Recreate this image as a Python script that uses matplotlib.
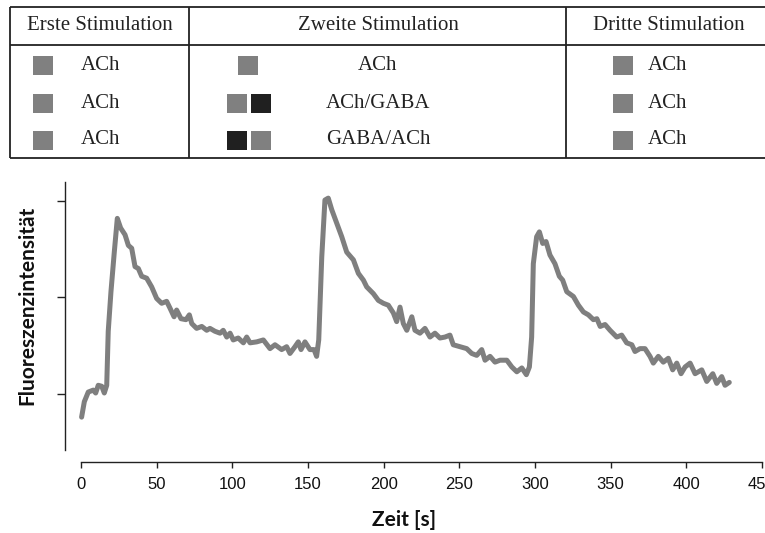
"""
    Fluoreszenzverlauf bei drei Stimulationen mit Stimulationstabelle
"""
import matplotlib
matplotlib.use('Agg')
import matplotlib.pyplot as plt
from matplotlib.patches import Rectangle

# --- data ------------------------------------------------------------------
zeit = [0.4, 2.2, 4.8, 8.1, 9.7, 11.4, 13.7, 15.4, 17.0, 18.0, 19.8, 22.0,
        24.0, 26.2, 29.1, 31.3, 33.5, 35.7, 37.9, 40.1, 43.4, 46.7, 50.0,
        53.3, 56.6, 58.8, 61.5, 63.2, 66.1, 69.4, 71.6, 73.2, 76.4, 79.8,
        83.1, 85.2, 88.5, 91.9, 94.0, 96.3, 98.5, 100.6, 103.9, 107.3,
        109.5, 111.7, 116.1, 120.5, 124.9, 128.2, 132.6, 135.9, 138.1,
        141.4, 143.6, 145.4, 148.0, 151.3, 154.0, 155.7, 157.1, 159.1,
        161.2, 163.4, 165.7, 169.0, 172.3, 175.6, 180.0, 183.3, 186.6,
        188.8, 193.2, 196.5, 199.8, 203.1, 206.4, 208.6, 210.8, 213.0,
        215.3, 218.6, 220.7, 224.0, 227.3, 230.6, 233.9, 237.2, 240.5,
        243.8, 246.0, 250.4, 254.9, 258.2, 261.5, 264.8, 267.0, 270.3,
        273.6, 276.9, 281.4, 284.7, 288.0, 291.3, 294.3, 296.3, 297.8,
        298.9, 301.1, 302.9, 305.1, 307.3, 309.9, 313.2, 316.1, 318.3,
        321.0, 325.4, 328.7, 332.0, 335.3, 338.6, 340.9, 343.1, 346.3,
        349.6, 354.0, 357.3, 360.6, 364.0, 366.1, 369.4, 372.7, 376.0,
        378.2, 381.5, 384.8, 388.1, 391.0, 393.7, 396.5, 399.2, 402.5,
        405.8, 410.2, 413.5, 417.5, 420.1, 423.4, 425.6, 428.4]
intensitaet = [0.76, 0.92, 1.02, 1.04, 1.01, 1.09, 1.08, 1.01, 1.09, 1.65,
               2.06, 2.47, 2.82, 2.72, 2.65, 2.54, 2.51, 2.32, 2.30, 2.22,
               2.20, 2.11, 1.99, 1.94, 1.96, 1.89, 1.80, 1.87, 1.78, 1.77,
               1.82, 1.73, 1.68, 1.70, 1.66, 1.68, 1.65, 1.63, 1.66, 1.59,
               1.63, 1.56, 1.58, 1.53, 1.59, 1.53, 1.54, 1.56, 1.47, 1.51,
               1.46, 1.49, 1.42, 1.49, 1.54, 1.46, 1.54, 1.46, 1.46, 1.39,
               1.56, 2.42, 3.01, 3.03, 2.91, 2.77, 2.63, 2.47, 2.39, 2.25,
               2.18, 2.11, 2.04, 1.97, 1.94, 1.92, 1.84, 1.75, 1.90, 1.73,
               1.66, 1.80, 1.66, 1.63, 1.68, 1.59, 1.63, 1.58, 1.59, 1.61,
               1.51, 1.49, 1.47, 1.42, 1.40, 1.46, 1.35, 1.39, 1.33, 1.35,
               1.35, 1.28, 1.23, 1.27, 1.20, 1.28, 1.59, 2.35, 2.63, 2.68,
               2.56, 2.58, 2.44, 2.35, 2.22, 2.18, 2.06, 2.01, 1.92, 1.85,
               1.82, 1.77, 1.78, 1.70, 1.72, 1.66, 1.59, 1.61, 1.53, 1.51,
               1.44, 1.47, 1.47, 1.39, 1.32, 1.39, 1.33, 1.37, 1.25, 1.32,
               1.21, 1.28, 1.32, 1.21, 1.25, 1.13, 1.21, 1.11, 1.18, 1.09,
               1.12]

x_ticks = [0, 50, 100, 150, 200, 250, 300, 350, 400, 450]
y_ticks = [1, 2, 3]

# Stimulationstabelle: header and rows (colour keys, label)
spalten = ['Erste Stimulation', 'Zweite Stimulation', 'Dritte Stimulation']
grau, schwarz = '#808080', '#202020'
erste = [([grau], 'ACh'), ([grau], 'ACh'), ([grau], 'ACh')]
zweite = [([grau], 'ACh'), ([grau, schwarz], 'ACh/GABA'),
          ([schwarz, grau], 'GABA/ACh')]
dritte = [([grau], 'ACh'), ([grau], 'ACh'), ([grau], 'ACh')]

W, H = 765, 533
fig = plt.figure(figsize=(W / 100, H / 100), dpi=100)

# --- table, laid out in pixel coordinates ----------------------------------
tab = fig.add_axes([0, 0, 1, 1])
tab.set_xlim(0, W)
tab.set_ylim(H, 0)
tab.axis('off')

lw = 1.3
for y in (7, 45, 158):
    tab.plot([10, W], [y, y], color='#222222', lw=lw, solid_capstyle='butt')
for x in (10, 189, 566):
    tab.plot([x, x], [7, 158], color='#222222', lw=lw, solid_capstyle='butt')

serif = dict(family=['Liberation Serif', 'DejaVu Serif'], fontsize=15,
             color='#222222', va='center')
for name, cx in zip(spalten, (99.5, 378, 669)):
    tab.text(cx, 26, name, ha='center', **serif)

row_y = [65, 103, 140]
sq_w, sq_h = 20, 19


def draw_keys(keys, x0, y):
    for i, c in enumerate(keys):
        tab.add_patch(Rectangle((x0 + i * (sq_w + 4), y - sq_h / 2), sq_w, sq_h,
                                facecolor=c, edgecolor='none'))


for (keys, lab), y in zip(erste, row_y):
    draw_keys(keys, 33, y)
    tab.text(81, y, lab, ha='left', **serif)

for (keys, lab), y in zip(zweite, row_y):
    x0 = 238 if len(keys) == 1 else 227
    draw_keys(keys, x0, y)
    tab.text(378, y, lab, ha='center', **serif)

for (keys, lab), y in zip(dritte, row_y):
    draw_keys(keys, 613, y)
    tab.text(648, y, lab, ha='left', **serif)

# --- trace -----------------------------------------------------------------
ax_l, ax_b, ax_t = 65, 462, 171
ax = fig.add_axes([ax_l / W, (H - ax_b) / H, (W - ax_l) / W, (ax_b - ax_t) / H])
ax.patch.set_alpha(0)
ax.plot(zeit, intensitaet, color='#7f7f7f', lw=3.6, solid_joinstyle='round',
        solid_capstyle='round')

ax.set_xlim(-10.57, 452.0)
ax.set_ylim(0.295, 3.311)
ax.spines['top'].set_visible(False)
ax.spines['right'].set_visible(False)
for s in ('left', 'bottom'):
    ax.spines[s].set_color('#222222')
    ax.spines[s].set_linewidth(1.0)
ax.spines['bottom'].set_bounds(0, 450)
ax.spines['left'].set_bounds(0.42, 3.197)

ax.set_xticks(x_ticks)
ax.set_yticks(y_ticks)
ax.set_yticklabels([])
ax.tick_params(axis='x', length=4.5, width=1.0, color='#222222', pad=6,
               labelsize=12, labelcolor='#111111')
ax.tick_params(axis='y', length=6, width=1.0, color='#222222')
for lab in ax.get_xticklabels():
    lab.set_family(['Liberation Sans Narrow', 'Liberation Sans', 'DejaVu Sans'])

lab_font = dict(family=['Lato', 'DejaVu Sans'], fontweight='bold', fontsize=15,
                color='#111111')
fig.text(404 / W, 1 - 520 / H, 'Zeit [s]', ha='center', va='center', **lab_font)
fig.text(27 / W, 1 - 305 / H, 'Fluoreszenzintensität', rotation=90,
         ha='center', va='center', **lab_font)

fig.savefig('out.png', dpi=100)
